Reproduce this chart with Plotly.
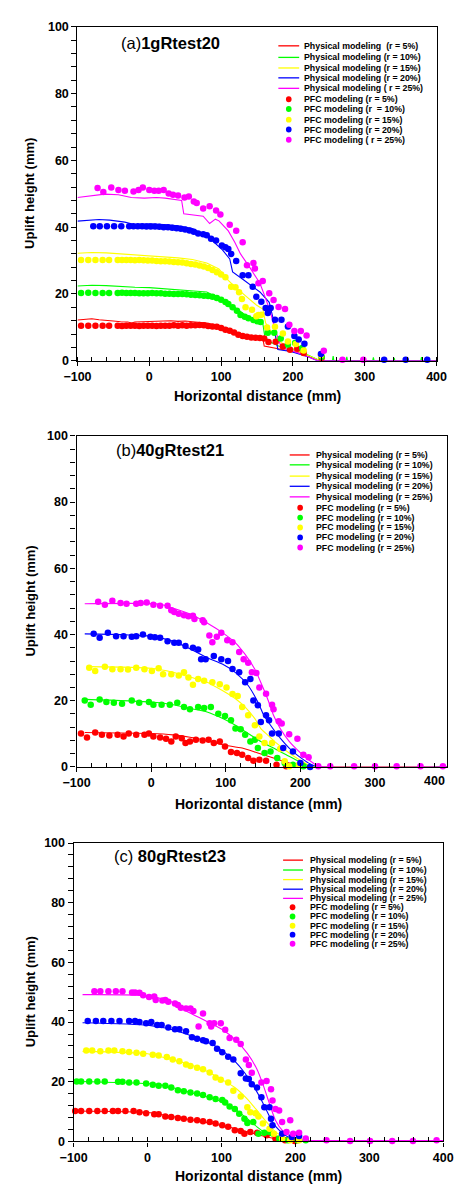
import plotly.graph_objects as go

W, H = 457, 1189
FONT = "Liberation Sans, Arial, Helvetica, sans-serif"
COLORS = ["#ff0000", "#00ff00", "#ffff00", "#0000ff", "#ff00ff"]

# ---------------- (a) 1gRtest20 ----------------
a_line_r5_x = [-100, -90, -80, -70, -60, -50, -40, -30, -25, -20, -10, 0, 10, 20, 30, 40, 50, 60, 70, 80, 90, 100, 110, 120, 130, 140, 150, 158, 160, 170, 184, 195, 206, 220, 232, 238, 400]
a_line_r5_y = [12.2, 12.4, 12.6, 12.3, 12.0, 11.9, 11.7, 11.6, 11.3, 11.6, 11.7, 11.8, 11.9, 11.8, 12.0, 11.8, 11.9, 11.7, 11.6, 11.3, 10.8, 10.0, 9.0, 7.9, 7.4, 7.3, 7.0, 6.9, 4.4, 4.0, 3.4, 3.0, 2.5, 1.5, 0.5, 0.0, 0.0]
a_line_r10_x = [-100, -80, -60, -40, -20, 0, 20, 40, 60, 80, 93, 105, 119, 128, 136, 149, 158, 161, 170, 180, 195, 206, 220, 232, 238, 255, 256, 257, 274, 275, 276, 311, 312, 313, 340, 341, 342, 378, 379, 380, 400]
a_line_r10_y = [22.4, 22.6, 22.5, 22.2, 22.0, 21.9, 21.6, 21.3, 21.0, 20.6, 19.2, 17.8, 16.0, 14.6, 13.3, 12.3, 11.3, 7.0, 5.5, 4.4, 3.5, 3.0, 1.8, 0.5, 0.0, 0.0, 1.4, 0.0, 0.0, 1.2, 0.0, 0.0, 1.0, 0.0, 0.0, 0.9, 0.0, 0.0, 1.1, 0.0, 0.0]
a_line_r15_x = [-100, -80, -60, -40, -20, 0, 20, 40, 60, 80, 97, 110, 119, 136, 149, 158, 162, 171, 184, 206, 232, 238, 400]
a_line_r15_y = [32.2, 32.4, 32.3, 32.0, 31.6, 31.4, 31.2, 30.8, 30.3, 29.3, 27.5, 24.1, 22.2, 19.2, 16.7, 15.5, 11.3, 8.4, 5.4, 3.0, 0.7, 0.0, 0.0]
a_line_r20_x = [-100, -85, -70, -55, -40, -34, -21, 0, 20, 40, 60, 75, 88, 101, 112, 116, 132, 154, 167, 172, 176, 179, 197, 224, 234, 385, 386, 387, 400]
a_line_r20_y = [41.8, 42.0, 42.3, 42.1, 41.7, 41.5, 40.8, 41.0, 40.8, 40.4, 39.6, 37.9, 35.9, 33.4, 30.5, 26.6, 24.1, 20.6, 17.5, 13.0, 7.0, 3.4, 2.8, 1.0, 0.0, 0.0, 1.2, 0.0, 0.0]
a_line_r25_x = [-100, -80, -62, -43, -25, -7, 10, 22, 40, 45, 48, 60, 75, 84, 92, 97, 110, 119, 127, 141, 154, 162, 169, 175, 184, 206, 228, 235, 400]
a_line_r25_y = [48.9, 49.5, 49.9, 49.7, 48.9, 48.7, 48.9, 48.7, 48.3, 48.0, 44.0, 43.7, 43.3, 41.1, 42.4, 41.9, 38.9, 35.5, 32.0, 27.6, 23.2, 18.7, 14.3, 9.4, 3.9, 2.5, 0.5, 0.0, 0.0]

a_pfc_r5_x = [-95, -85, -75, -65, -56, -44, -38, -32, -26, -20, -14, -8, -2, 4, 10, 16, 22, 28, 34, 40, 46, 52, 58, 64, 70, 76, 82, 88, 94, 100, 106, 112, 118, 124, 130, 136, 142, 148, 154, 160, 166, 176, 186, 196, 206, 215, 240]
a_pfc_r5_y = [10.5, 10.5, 10.5, 10.5, 10.5, 10.5, 10.4, 10.5, 10.5, 10.5, 10.4, 10.5, 10.5, 10.5, 10.4, 10.5, 10.5, 10.5, 10.6, 10.5, 10.6, 10.5, 10.6, 10.6, 10.7, 10.6, 10.4, 10.3, 10.2, 9.8, 9.3, 9.0, 8.5, 7.8, 7.4, 7.2, 7.0, 6.9, 6.8, 6.7, 5.6, 5.7, 4.3, 3.3, 3.6, 2.3, 0.9]
a_pfc_r10_x = [-95, -85, -75, -65, -56, -44, -38, -32, -26, -20, -14, -8, -2, 4, 10, 16, 22, 28, 34, 40, 46, 52, 58, 64, 70, 76, 82, 88, 94, 100, 106, 110, 116, 122, 127, 133, 138, 145, 150, 155, 165, 174, 183, 193, 203, 213, 240]
a_pfc_r10_y = [20.3, 20.4, 20.3, 20.3, 20.3, 20.3, 20.4, 20.3, 20.3, 20.3, 20.2, 20.2, 20.2, 20.3, 20.2, 20.2, 20.1, 20.1, 20.0, 20.0, 20.0, 19.9, 19.8, 19.7, 19.6, 19.5, 19.4, 19.2, 18.8, 18.3, 17.6, 17.0, 16.0, 15.0, 13.7, 13.2, 12.7, 12.2, 11.8, 11.6, 8.4, 8.4, 6.7, 4.9, 5.3, 3.8, 1.2]
a_pfc_r15_x = [-95, -85, -75, -65, -56, -44, -38, -32, -26, -20, -14, -8, -2, 4, 10, 16, 22, 28, 34, 40, 46, 52, 58, 64, 70, 76, 82, 88, 94, 100, 106, 114, 120, 125, 129, 134, 143, 149, 152, 156, 164, 175, 186, 193, 204, 215, 239]
a_pfc_r15_y = [30.2, 30.2, 30.2, 30.2, 30.2, 30.2, 30.2, 30.2, 30.2, 30.1, 30.2, 30.1, 30.0, 30.0, 29.9, 29.8, 29.8, 29.7, 29.6, 29.5, 29.4, 29.2, 29.0, 28.8, 28.5, 28.2, 27.8, 27.2, 26.5, 25.8, 25.0, 22.2, 22.0, 20.5, 18.5, 16.0, 15.3, 13.3, 13.7, 13.8, 10.0, 10.2, 8.2, 5.8, 5.0, 3.1, 1.7]
a_pfc_r20_x = [-78, -69, -59, -49, -39, -28, -22, -16, -10, -4, 2, 8, 14, 20, 26, 32, 38, 44, 50, 56, 62, 68, 75, 80, 86, 93, 101, 106, 110, 114, 121, 130, 138, 144, 149, 156, 162, 165, 169, 175, 184, 193, 202, 208, 216, 239, 327, 357, 387]
a_pfc_r20_y = [40.3, 40.3, 40.3, 40.3, 40.3, 40.3, 40.3, 40.3, 40.3, 40.2, 40.2, 40.2, 40.1, 40.0, 40.0, 39.8, 39.7, 39.5, 39.3, 39.0, 38.6, 38.1, 37.9, 37.6, 36.5, 36.0, 34.5, 34.0, 33.5, 32.0, 29.9, 25.6, 25.6, 22.2, 19.2, 17.7, 15.8, 14.3, 15.8, 12.3, 12.3, 10.3, 7.4, 6.4, 5.1, 2.0, 0.3, 0.3, 0.3]
a_pfc_r25_x = [-72, -64, -53, -43, -34, -22, -15, -9, 0, 7, 13, 20, 27, 33, 40, 49, 55, 62, 66, 75, 84, 93, 99, 112, 121, 130, 136, 145, 147, 152, 158, 167, 173, 180, 189, 195, 202, 211, 219, 243, 269, 298]
a_pfc_r25_y = [51.7, 50.5, 51.9, 51.1, 50.9, 50.7, 51.1, 51.9, 51.1, 50.9, 50.9, 51.1, 50.1, 49.7, 49.5, 48.9, 49.2, 47.7, 47.2, 45.6, 46.3, 45.0, 43.8, 40.7, 38.9, 35.5, 28.6, 29.3, 27.6, 23.2, 23.9, 20.2, 18.2, 16.1, 15.5, 10.8, 8.9, 8.9, 7.6, 3.0, 0.3, 0.3]

# ---------------- (b) 40gRtest21 ----------------
b_line_r5_x = [-89, 0, 29, 54, 75, 96, 122, 143, 164, 185, 207, 225, 400]
b_line_r5_y = [10.4, 10.1, 9.7, 8.9, 7.9, 6.7, 5.7, 4.2, 2.7, 1.2, 0.2, 0.0, 0.0]
b_line_r10_x = [-89, 0, 29, 54, 75, 96, 113, 130, 147, 164, 181, 198, 215, 228, 400]
b_line_r10_y = [20.4, 19.6, 18.8, 17.6, 16.6, 14.6, 12.6, 10.1, 7.7, 5.7, 3.7, 1.7, 0.2, 0.0, 0.0]
b_line_r15_x = [-83, 0, 29, 54, 75, 96, 113, 126, 139, 147, 156, 168, 185, 202, 215, 228, 400]
b_line_r15_y = [30.3, 29.8, 28.6, 27.0, 25.6, 23.0, 20.6, 18.1, 14.6, 11.6, 9.7, 7.2, 4.2, 1.7, 0.2, 0.0, 0.0]
b_line_r20_x = [-89, -1, 29, 54, 75, 96, 113, 130, 143, 151, 160, 173, 185, 198, 215, 226, 400]
b_line_r20_y = [40.2, 39.5, 38.0, 35.5, 33.0, 31.0, 28.5, 24.6, 19.6, 15.6, 12.6, 8.7, 5.7, 3.2, 0.7, 0.0, 0.0]
b_line_r25_x = [-89, 10, 29, 54, 75, 96, 113, 126, 139, 147, 156, 164, 173, 185, 198, 211, 224, 235, 400]
b_line_r25_y = [49.3, 49.2, 48.0, 46.0, 43.5, 40.5, 37.5, 34.0, 29.5, 25.5, 20.6, 15.6, 11.6, 7.7, 4.7, 2.2, 0.2, 0.0, 0.0]

b_pfc_r5_x = [-94, -86, -75, -66, -56, -45, -37, -30, -20, -9, -3, 3, 12, 20, 27, 33, 41, 46, 52, 60, 69, 77, 84, 92, 99, 107, 115, 122, 130, 137, 145, 154, 168, 181]
b_pfc_r5_y = [10.1, 8.9, 10.4, 9.7, 9.5, 9.7, 9.2, 10.1, 9.7, 9.7, 10.1, 9.2, 8.9, 8.5, 7.7, 9.2, 8.7, 7.2, 7.7, 8.2, 8.0, 8.2, 7.2, 7.7, 6.2, 4.5, 4.2, 3.7, 2.7, 1.9, 2.2, 1.9, 0.7, 0.2]
b_pfc_r10_x = [-89, -81, -69, -60, -50, -39, -26, -16, -3, 3, 14, 25, 35, 44, 52, 63, 71, 80, 90, 99, 107, 113, 120, 126, 133, 139, 143, 152, 160, 169, 179, 190, 204]
b_pfc_r10_y = [20.1, 18.8, 20.4, 19.6, 19.4, 19.1, 20.1, 19.4, 19.6, 18.8, 18.8, 18.8, 19.4, 18.1, 17.4, 18.1, 17.8, 18.1, 16.1, 15.4, 14.1, 11.6, 11.4, 9.7, 7.7, 8.2, 5.7, 4.2, 4.7, 2.7, 1.2, 0.7, 0.2]
b_pfc_r15_x = [-83, -75, -62, -52, -41, -31, -20, -9, 1, 10, 16, 27, 37, 44, 50, 56, 63, 71, 82, 92, 101, 109, 116, 122, 130, 139, 145, 152, 162, 173, 179, 185, 198]
b_pfc_r15_y = [30.0, 29.0, 30.3, 29.5, 29.5, 29.4, 30.0, 29.5, 29.0, 29.8, 28.0, 28.0, 27.6, 28.6, 27.0, 24.8, 26.6, 26.0, 25.6, 25.0, 24.0, 22.0, 21.4, 18.1, 15.6, 12.6, 9.2, 7.2, 7.2, 5.5, 1.7, 0.2, 0.7]
b_pfc_r20_x = [-77, -69, -58, -47, -37, -26, -20, -11, -1, 5, 12, 22, 31, 37, 46, 56, 63, 67, 73, 84, 94, 103, 109, 118, 126, 133, 137, 143, 147, 154, 158, 162, 171, 177, 190, 200, 213]
b_pfc_r20_y = [40.2, 39.0, 40.5, 39.5, 39.5, 39.3, 39.5, 40.0, 39.3, 39.2, 39.0, 38.0, 37.5, 37.5, 36.5, 36.0, 35.5, 32.5, 32.5, 33.5, 32.5, 32.0, 29.6, 28.6, 25.6, 26.6, 20.1, 18.6, 13.6, 15.6, 14.1, 10.1, 10.1, 5.7, 4.7, 1.2, 0.0]
b_pfc_r25_x = [-71, -62, -52, -41, -33, -20, -14, -6, 3, 12, 22, 27, 31, 37, 44, 50, 56, 58, 69, 71, 78, 82, 88, 94, 102, 109, 118, 124, 130, 135, 141, 145, 154, 162, 164, 171, 175, 185, 196, 204, 211, 224, 240, 272, 300, 329, 361, 391]
b_pfc_r25_y = [49.9, 49.0, 50.2, 49.5, 49.3, 49.3, 49.5, 49.7, 49.0, 48.7, 48.7, 47.3, 46.8, 46.3, 45.8, 45.5, 45.7, 44.7, 44.3, 43.7, 39.7, 37.7, 39.3, 40.5, 38.3, 37.7, 34.7, 32.5, 31.5, 28.6, 28.4, 24.0, 22.1, 18.8, 17.4, 13.8, 13.1, 9.9, 8.5, 3.7, 2.9, 0.2, 0.2, 0.2, 0.2, 0.2, 0.2, 0.2]

# ---------------- (c) 80gRtest23 ----------------
c_line_r5_x = [-98, 0, 32, 58, 84, 109, 131, 152, 173, 195, 215, 400]
c_line_r5_y = [10.2, 9.7, 8.4, 7.3, 6.2, 4.9, 3.5, 2.1, 0.9, 0.2, 0.0, 0.0]
c_line_r10_x = [-96, 0, 24, 49, 75, 96, 118, 135, 148, 161, 178, 195, 215, 400]
c_line_r10_y = [20.1, 19.4, 18.7, 17.0, 15.3, 13.7, 10.9, 7.6, 4.9, 2.6, 1.0, 0.2, 0.0, 0.0]
c_line_r15_x = [-88, 0, 24, 49, 75, 96, 118, 135, 148, 161, 173, 186, 203, 220, 400]
c_line_r15_y = [30.2, 29.4, 28.0, 26.4, 24.2, 21.4, 18.1, 14.2, 10.4, 6.5, 3.2, 1.3, 0.4, 0.2, 0.2]
c_line_r20_x = [-88, 0, 24, 45, 67, 88, 105, 118, 131, 143, 152, 161, 169, 178, 190, 203, 220, 400]
c_line_r20_y = [39.8, 39.0, 38.0, 36.6, 34.7, 32.5, 29.7, 26.9, 23.1, 18.7, 14.8, 10.4, 6.5, 3.8, 1.5, 0.4, 0.2, 0.2]
c_line_r25_x = [-88, 2, 32, 54, 79, 101, 118, 135, 148, 156, 165, 173, 182, 195, 212, 230, 400]
c_line_r25_y = [49.2, 48.8, 46.8, 43.5, 40.4, 37.5, 34.2, 29.5, 24.2, 19.2, 12.6, 7.1, 3.8, 1.5, 0.4, 0.3, 0.3]

c_pfc_r5_x = [-98, -90, -79, -68, -58, -47, -40, -30, -19, -11, -2, 9, 15, 24, 32, 41, 49, 58, 67, 75, 84, 92, 101, 109, 118, 126, 131, 139, 148, 161, 173, 186, 199]
c_pfc_r5_y = [10.2, 10.2, 10.2, 10.2, 10.2, 10.2, 10.2, 10.2, 10.2, 9.8, 9.5, 9.1, 9.1, 8.4, 8.2, 7.9, 7.6, 7.3, 7.1, 6.8, 6.5, 6.0, 5.4, 4.9, 3.8, 3.5, 2.6, 3.2, 2.9, 2.1, 1.0, 0.4, 0.2]
c_pfc_r10_x = [-96, -90, -79, -68, -58, -40, -34, -25, -15, -2, 7, 15, 24, 32, 41, 49, 58, 67, 75, 84, 92, 101, 105, 111, 118, 124, 131, 135, 143, 150, 158, 165, 178, 190, 203, 214]
c_pfc_r10_y = [20.1, 20.1, 20.1, 20.1, 20.1, 20.0, 20.0, 19.8, 19.8, 19.4, 19.0, 18.7, 18.7, 18.1, 17.2, 16.8, 16.4, 16.1, 15.6, 14.8, 14.2, 13.9, 13.1, 11.7, 10.9, 9.3, 7.6, 6.2, 6.5, 2.6, 2.9, 3.2, 1.0, 0.4, 0.4, 0.4]
c_pfc_r15_x = [-83, -75, -64, -53, -45, -34, -25, -15, -6, 7, 15, 26, 34, 43, 52, 58, 67, 75, 84, 92, 99, 109, 116, 126, 135, 139, 146, 150, 156, 165, 171, 182, 193, 205]
c_pfc_r15_y = [30.5, 30.5, 30.2, 30.5, 30.5, 30.2, 30.0, 29.7, 29.4, 29.1, 28.8, 28.3, 27.5, 26.9, 25.8, 25.3, 24.7, 24.2, 23.1, 21.4, 20.7, 19.8, 17.0, 15.1, 11.5, 9.8, 9.5, 8.4, 6.0, 4.3, 2.6, 1.0, 0.4, 0.4]
c_pfc_r20_x = [-81, -70, -60, -49, -38, -25, -17, -11, -2, 5, 13, 19, 28, 37, 43, 52, 60, 67, 75, 79, 88, 94, 101, 109, 116, 126, 133, 137, 141, 148, 154, 158, 165, 167, 169, 182, 195, 205]
c_pfc_r20_y = [40.4, 40.4, 40.4, 40.4, 40.4, 40.4, 40.4, 40.0, 39.6, 40.0, 39.0, 39.0, 38.2, 37.6, 37.6, 36.9, 34.9, 34.4, 33.9, 33.6, 33.0, 31.1, 29.9, 28.4, 27.5, 22.9, 21.1, 20.9, 19.2, 18.1, 14.8, 11.5, 11.5, 7.6, 5.4, 2.6, 1.5, 1.8]
c_pfc_r25_x = [-72, -64, -53, -43, -34, -21, -17, -11, -6, 2, 9, 11, 20, 24, 28, 37, 41, 45, 52, 58, 62, 69, 75, 84, 86, 90, 99, 105, 111, 120, 126, 133, 137, 141, 154, 161, 167, 169, 173, 178, 182, 188, 193, 197, 205, 214, 242, 274, 301, 331, 359, 391]
c_pfc_r25_y = [50.3, 50.3, 50.3, 50.3, 50.3, 49.9, 49.9, 49.8, 49.0, 48.4, 48.6, 47.4, 47.2, 47.4, 46.8, 46.2, 45.7, 44.8, 44.6, 44.6, 43.7, 38.5, 42.9, 39.6, 38.5, 39.6, 39.6, 37.4, 34.7, 34.1, 32.7, 27.5, 25.6, 23.0, 19.8, 20.3, 17.5, 13.7, 10.9, 10.4, 6.5, 3.2, 7.1, 2.6, 2.9, 1.0, 0.4, 0.2, 0.2, 0.2, 0.2, 0.4]

LEGEND_TEXT_A = [
    "Physical modeling\u00a0 (r = 5%)", "Physical modeling (r = 10%)", "Physical modeling (r = 15%)",
    "Physical modeling (r = 20%)", "Physical modeling ( r = 25%)",
    "PFC modeling (r = 5%)", "PFC modeling (r \u00a0= 10%)", "PFC modeling (r = 15%)",
    "PFC modeling (r = 20%)", "PFC modeling ( r = 25%)",
]
LEGEND_TEXT_BC = [
    "Physical modeling (r = 5%)", "Physical modeling (r = 10%)", "Physical modeling (r = 15%)",
    "Physical modeling (r = 20%)", "Physical modeling (r = 25%)",
    "PFC modeling (r = 5%)", "PFC modeling (r = 10%)", "PFC modeling (r = 15%)",
    "PFC modeling (r = 20%)", "PFC modeling (r = 25%)",
]

PANELS = [
    dict(
        lines=[(a_line_r5_x, a_line_r5_y), (a_line_r10_x, a_line_r10_y), (a_line_r15_x, a_line_r15_y),
               (a_line_r20_x, a_line_r20_y), (a_line_r25_x, a_line_r25_y)],
        pfc=[(a_pfc_r5_x, a_pfc_r5_y), (a_pfc_r10_x, a_pfc_r10_y), (a_pfc_r15_x, a_pfc_r15_y),
             (a_pfc_r20_x, a_pfc_r20_y), (a_pfc_r25_x, a_pfc_r25_y)],
        shape="linear", px=(67, 446), py=(20, 358), xmax=400,
        title=("(a)<b>1gRtest20</b>", 111, 36),
        legend=(LEGEND_TEXT_A, 279, 301, 290, 304, [39.3, 51, 61.7, 71.7, 82.3, 93.3, 103.3, 114, 124, 134.3]),
        xtitle_y=394, ticklab_y=373,
    ),
    dict(
        lines=[(b_line_r5_x, b_line_r5_y), (b_line_r10_x, b_line_r10_y), (b_line_r15_x, b_line_r15_y),
               (b_line_r20_x, b_line_r20_y), (b_line_r25_x, b_line_r25_y)],
        pfc=[(b_pfc_r5_x, b_pfc_r5_y), (b_pfc_r10_x, b_pfc_r10_y), (b_pfc_r15_x, b_pfc_r15_y),
             (b_pfc_r20_x, b_pfc_r20_y), (b_pfc_r25_x, b_pfc_r25_y)],
        shape="spline", px=(66, 457), py=(434, 769), xmax=396.5,
        title=("(b)<b>40gRtest21</b>", 106, 448),
        legend=(LEGEND_TEXT_BC, 291, 312, 302, 317, [453.3, 463.3, 474.7, 485, 495.7, 506.7, 516.7, 526.7, 536.7, 547]),
        xtitle_y=806, ticklab_y=783,
    ),
    dict(
        lines=[(c_line_r5_x, c_line_r5_y), (c_line_r10_x, c_line_r10_y), (c_line_r15_x, c_line_r15_y),
               (c_line_r20_x, c_line_r20_y), (c_line_r25_x, c_line_r25_y)],
        pfc=[(c_pfc_r5_x, c_pfc_r5_y), (c_pfc_r10_x, c_pfc_r10_y), (c_pfc_r15_x, c_pfc_r15_y),
             (c_pfc_r20_x, c_pfc_r20_y), (c_pfc_r25_x, c_pfc_r25_y)],
        shape="spline", px=(63, 453), py=(846, 1148), xmax=400,
        title=("(c) <b>80gRtest23</b>", 103, 859),
        legend=(LEGEND_TEXT_BC, 284, 305, 294, 310, [863.3, 873.3, 883, 892.7, 902, 911, 920.3, 929.7, 938.7, 948]),
        xtitle_y=1183, ticklab_y=1163,
    ),
]


def fx(p):
    return p / W


def fy(p):
    return 1 - p / H


fig = go.Figure()
shapes, annotations = [], []
layout = {}

for i, pnl in enumerate(PANELS):
    sfx = "" if i == 0 else str(i + 1)
    xa, ya = "x" + sfx, "y" + sfx

    for (xs, ys), col in zip(pnl["lines"], COLORS):
        fig.add_trace(go.Scatter(
            x=xs, y=ys, mode="lines", xaxis=xa, yaxis=ya, showlegend=False,
            line=dict(color=col, width=1.1, shape=pnl["shape"], smoothing=0.6),
            cliponaxis=False, hoverinfo="skip"))
    for (xs, ys), col in zip(pnl["pfc"], COLORS):
        fig.add_trace(go.Scatter(
            x=xs, y=ys, mode="markers", xaxis=xa, yaxis=ya, showlegend=False,
            marker=dict(color=col, size=6.5, line=dict(width=0)),
            cliponaxis=False, hoverinfo="skip"))

    tickfont = dict(family=FONT, size=12.5, color="black", weight="bold")
    layout["xaxis" + sfx] = dict(
        domain=[fx(pnl["px"][0]), min(1.0, fx(pnl["px"][1]))], range=[-100, pnl["xmax"]],
        anchor=ya, showline=True, mirror=True, linecolor="black", linewidth=1.3,
        showgrid=False, zeroline=False, tickmode="linear", tick0=-100, dtick=100,
        ticks="outside", ticklen=4, tickwidth=1.2, tickcolor="black", tickfont=tickfont,
        minor=dict(dtick=20, tick0=-100, ticks="inside", ticklen=4, tickwidth=1, tickcolor="black", showgrid=False),
    )
    layout["yaxis" + sfx] = dict(
        domain=[fy(pnl["py"][1]), fy(pnl["py"][0])], range=[0, 100],
        anchor=xa, showline=True, mirror=True, linecolor="black", linewidth=1.3,
        showgrid=False, zeroline=False, tickmode="linear", tick0=0, dtick=20,
        ticks="outside", ticklen=5, tickwidth=1.2, tickcolor="black", tickfont=tickfont,
        minor=dict(dtick=4, tick0=0, ticks="outside", ticklen=5, tickwidth=1, tickcolor="black", showgrid=False),
    )

    # panel title
    txt, tx, ty = pnl["title"]
    annotations.append(dict(text=txt, x=fx(tx), y=fy(ty), xref="paper", yref="paper",
                            xanchor="left", yanchor="middle", showarrow=False,
                            font=dict(family=FONT, size=16.5, color="black")))
    # axis titles
    cx = (pnl["px"][0] + pnl["px"][1]) / 2
    annotations.append(dict(text="<b>Horizontal distance (mm)</b>", x=fx(258 if i == 1 else cx),
                            y=fy(pnl["xtitle_y"]), xref="paper", yref="paper",
                            xanchor="center", yanchor="middle", showarrow=False,
                            font=dict(family=FONT, size=14, color="black")))
    annotations.append(dict(text="<b>Uplift height (mm)</b>", x=fx(17),
                            y=fy((pnl["py"][0] + pnl["py"][1]) / 2), xref="paper", yref="paper",
                            xanchor="center", yanchor="middle", textangle=-90, showarrow=False,
                            font=dict(family=FONT, size=13, color="black")))

    # legend block
    texts, lx0, lx1, mx, tx0, rows = pnl["legend"]
    for k, (label, row) in enumerate(zip(texts, rows)):
        col = COLORS[k % 5]
        if k < 5:
            shapes.append(dict(type="line", xref="paper", yref="paper",
                               x0=fx(lx0), x1=fx(lx1), y0=fy(row), y1=fy(row),
                               line=dict(color=col, width=1.3)))
        else:
            r = 3.0
            shapes.append(dict(type="circle", xref="paper", yref="paper",
                               x0=fx(mx - r), x1=fx(mx + r), y0=fy(row + r), y1=fy(row - r),
                               fillcolor=col, line=dict(width=0)))
        annotations.append(dict(text="<b>" + label + "</b>", x=fx(tx0), y=fy(row),
                                xref="paper", yref="paper", xanchor="left", yanchor="middle",
                                showarrow=False, font=dict(family=FONT, size=8.8, color="black")))

# the 400 tick label of panel (b) falls at the right edge of the page; keep it whole
annotations.append(dict(text="<b>400</b>", x=1.0, xref="paper", y=fy(783), yref="paper",
                        xanchor="right", yanchor="middle", showarrow=False,
                        font=dict(family=FONT, size=12.5, color="black")))

fig.update_layout(
    width=W, height=H, margin=dict(l=0, r=0, t=0, b=0),
    paper_bgcolor="white", plot_bgcolor="white", showlegend=False,
    shapes=shapes, annotations=annotations, **layout,
)

fig.write_html("out.html")
